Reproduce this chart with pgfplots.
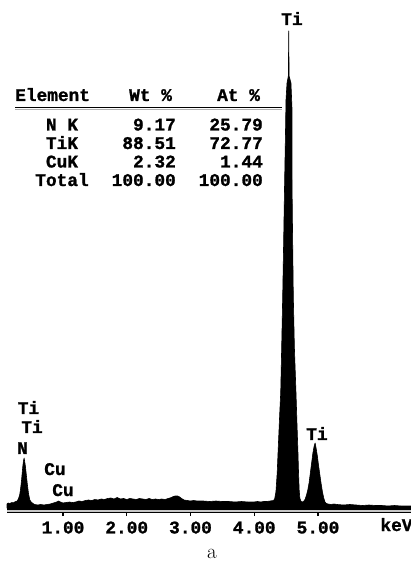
\documentclass[border=0pt]{standalone}
\usepackage{pgfplots}
\pgfplotsset{compat=1.18}
\usepackage{fontspec}
\newfontfamily\edsfont{Liberation Mono}[BoldFeatures={FakeBold=1.2}]
\newcommand\lbl{\edsfont\bfseries\fontsize{17.8}{20}\selectfont}

\begin{document}
\begin{tikzpicture}
\path[use as bounding box] (0,0) rectangle (411pt,562pt);
\begin{axis}[
  at={(7pt,54pt)}, anchor=south west,
  scale only axis, width=404pt, height=508pt,
  xmin=0.1216, xmax=6.459, ymin=0, ymax=508,
  hide y axis,
  axis line style={draw=none},
  xtick={1,2,3,4,5},
  xtick pos=left,
  tick align=outside, major tick length=8pt,
  tick style={black, line width=1.3pt},
  xticklabel style={font=\lbl, yshift=-2pt, /pgf/number format/.cd, fixed, fixed zerofill, precision=2, assume math mode=true},
  clip=false,
]
% EDS spectrum (counts on an arbitrary scale)
\addplot[fill=black, draw=black, line width=0.6pt, line join=round] coordinates {
(0.1216,4) (0.14,5) (0.16,4.5) (0.18,5) (0.20,5.5) (0.22,5) (0.24,6) (0.26,6.5)
(0.28,7) (0.30,9) (0.32,13) (0.33,17) (0.34,22) (0.35,28) (0.36,35) (0.37,42)
(0.38,47) (0.39,50) (0.40,46) (0.41,42) (0.42,36) (0.43,30) (0.44,24) (0.45,19)
(0.46,14) (0.47,11) (0.48,8) (0.50,6) (0.52,5) (0.54,4) (0.56,3.5) (0.60,3)
(0.65,3.5) (0.70,3) (0.75,3.5) (0.80,4) (0.85,5) (0.90,6) (0.93,7) (0.96,6)
(1.00,5) (1.05,5.5) (1.10,6) (1.15,5.5) (1.20,6) (1.25,7) (1.30,6.5) (1.35,7.5)
(1.40,8) (1.45,7.5) (1.50,8.5) (1.55,8) (1.60,9) (1.65,8.5) (1.70,9.5) (1.75,10)
(1.80,9) (1.85,10.5) (1.90,9) (1.95,9.5) (2.00,8.5) (2.05,9.5) (2.10,9) (2.15,8.5)
(2.20,9.5) (2.25,9) (2.30,8.5) (2.35,9.5) (2.40,8.5) (2.45,9) (2.50,8.5) (2.55,9)
(2.60,8.5) (2.65,9.5) (2.70,10.5) (2.73,11.5) (2.76,12) (2.80,12) (2.83,11) (2.86,9.5)
(2.90,8) (2.95,7.5) (3.00,7) (3.05,7.5) (3.10,7) (3.20,7) (3.30,6.5) (3.40,7)
(3.50,6.5) (3.60,6.5) (3.70,6) (3.80,6.5) (3.90,6) (4.00,6) (4.05,6.5) (4.10,6)
(4.15,6.5) (4.20,6.5) (4.25,7) (4.30,7.5) (4.32,9) (4.34,16) (4.36,35) (4.373,55)
(4.39,80) (4.40,95) (4.415,115) (4.43,160) (4.446,211) (4.46,262) (4.477,328) (4.49,375)
(4.498,408) (4.514,425) (4.535,432) (4.541,477) (4.547,432) (4.576,425) (4.592,400) (4.592,330)
(4.60,280) (4.613,211) (4.63,160) (4.655,115) (4.67,85) (4.686,55) (4.695,35) (4.705,18)
(4.715,10) (4.73,7) (4.75,6) (4.77,6.5) (4.78,7) (4.80,9) (4.82,13) (4.84,18)
(4.86,25) (4.88,35) (4.90,45) (4.92,55) (4.94,62) (4.955,65) (4.97,60) (4.99,52)
(5.01,42) (5.03,33) (5.05,24) (5.07,16) (5.09,10) (5.11,6) (5.13,4.5) (5.16,4)
(5.20,3.5) (5.25,4) (5.30,3.5) (5.40,3) (5.50,3.5) (5.60,3) (5.70,2.5) (5.80,3)
(5.90,2.5) (6.00,2.5) (6.10,2) (6.20,2.5) (6.30,2) (6.40,2) (6.459,2)
} \closedcycle;

% double baseline
\draw[black, line width=2pt] (axis cs:0.1216,-1) -- (axis cs:6.459,-1);
\draw[gray!45, line width=1.5pt] (axis cs:0.1216,-2.75) -- (axis cs:6.459,-2.75);
\draw[black, line width=1.5pt] (axis cs:0.1216,-4.25) -- (axis cs:6.459,-4.25);

% peak identifications
\begin{scope}[every node/.style={anchor=base, inner sep=0pt, font=\lbl}]
\node at (axis cs:4.592,483) {Ti};
\node at (axis cs:0.459,94) {Ti};
\node at (axis cs:0.514,75) {Ti};
\node at (axis cs:0.365,54) {N};
\node at (axis cs:0.874,33) {Cu};
\node at (axis cs:1.000,12) {Cu};
\node at (axis cs:4.984,68) {Ti};
\node at (axis cs:6.231,-23) {keV};
\end{scope}
\end{axis}

% quantification table
\begin{scope}[every node/.style={inner sep=0pt, font=\lbl}]
\node[anchor=base west] at (15pt,461pt) {Element};
\node[anchor=base west] at (129pt,461pt) {Wt \%};
\node[anchor=base west] at (217pt,461pt) {At \%};
\draw[black, line width=1.5pt] (15pt,454.5pt) -- (282pt,454.5pt);
\draw[gray!60, line width=1pt] (15pt,452.7pt) -- (282pt,452.7pt);
\node[anchor=base] at (62pt,431.5pt) {N K};
\node[anchor=base] at (62pt,413pt) {TiK};
\node[anchor=base] at (62pt,394.5pt) {CuK};
\node[anchor=base] at (62pt,376pt) {Total};
\node[anchor=base east] at (176pt,431.5pt) {9.17};
\node[anchor=base east] at (176pt,413pt) {88.51};
\node[anchor=base east] at (176pt,394.5pt) {2.32};
\node[anchor=base east] at (176pt,376pt) {100.00};
\node[anchor=base east] at (263pt,431.5pt) {25.79};
\node[anchor=base east] at (263pt,413pt) {72.77};
\node[anchor=base east] at (263pt,394.5pt) {1.44};
\node[anchor=base east] at (263pt,376pt) {100.00};
\end{scope}

\node[anchor=base, inner sep=0pt, font=\fontsize{21}{24}\selectfont] at (212pt,3pt) {a};
\end{tikzpicture}
\end{document}
